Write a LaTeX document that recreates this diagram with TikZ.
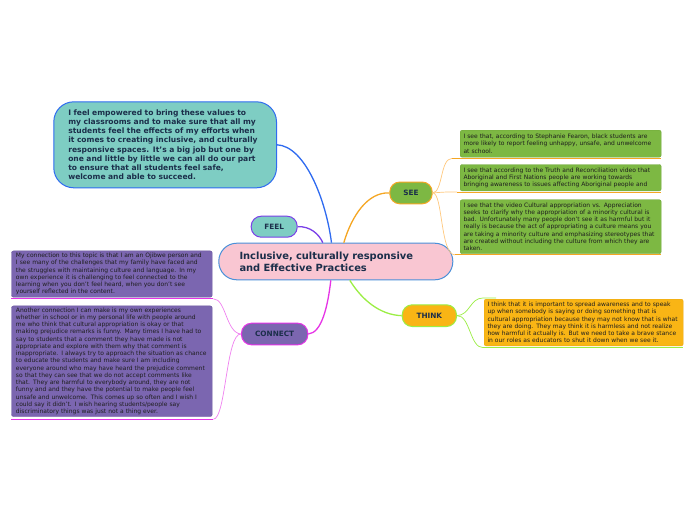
\documentclass[tikz,border=0pt]{standalone}
\usepackage{fontspec}
\setmainfont{DejaVu Sans}
\usetikzlibrary{calc}
\definecolor{pinkc}{HTML}{F9C6D2}
\definecolor{centerb}{HTML}{4A90D9}
\definecolor{tealc}{HTML}{7ECDC3}
\definecolor{blueb}{HTML}{2F6BF0}
\definecolor{purpb}{HTML}{7A3FE8}
\definecolor{greenc}{HTML}{7DB843}
\definecolor{greend}{HTML}{6FA83A}
\definecolor{orangeb}{HTML}{F5A623}
\definecolor{orangel}{HTML}{FFC87C}
\definecolor{yellowc}{HTML}{F9B515}
\definecolor{yellowd}{HTML}{E9A810}
\definecolor{limeb}{HTML}{9BEE44}
\definecolor{purplec}{HTML}{7B66B0}
\definecolor{purpled}{HTML}{6C58A0}
\definecolor{magb}{HTML}{E633E6}
\definecolor{magl}{HTML}{F080F0}
\definecolor{darkt}{HTML}{1B2E4A}
\definecolor{bodyt}{HTML}{1E1E1E}
\tikzset{
  topic/.style={anchor=north west, rounded corners=10pt, line width=1pt, inner sep=0pt,
    font=\fontsize{7.3}{8}\selectfont\bfseries, text=darkt},
  note/.style={anchor=north west, rounded corners=2pt, inner xsep=3.3pt, inner ysep=0pt,
    align=left, font=\fontsize{6.0}{7.25}\selectfont, text=bodyt, line width=0.4pt},
  conn/.style={line width=1.3pt},
  sub/.style={line width=0.7pt},
  under/.style={line width=1.1pt}
}
\begin{document}
\begin{tikzpicture}[x=1pt,y=-1pt]
\useasboundingbox[fill=white] (0,0) rectangle (696,520);

% central topic
\node[anchor=north west, draw=centerb, fill=pinkc, line width=1pt, rounded corners=18pt,
  minimum width=234pt, minimum height=36.6pt, text width=192.6pt, align=left,
  inner xsep=20.7pt, inner ysep=0pt, font=\fontsize{9.9}{12.3}\selectfont\bfseries, text=darkt]
  (c) at (218.3,242.7) {Inclusive, culturally responsive\\and Effective Practices};

% top-left floating statement
\node[anchor=north west, draw=blueb, fill=tealc, line width=1pt, rounded corners=20pt,
  minimum width=222.7pt, minimum height=86pt, text width=193.7pt, align=left,
  inner xsep=14.5pt, inner ysep=0pt, font=\fontsize{7.55}{9.24}\selectfont\bfseries, text=darkt]
  (tl) at (53.3,101.3) {I feel empowered to bring these values to\\
my classrooms and to make sure that all my\\
students feel the effects of my efforts when\\
it comes to creating inclusive, and culturally\\
responsive spaces. It's a big job but one by\\
one and little by little we can all do our part\\
to ensure that all students feel safe,\\
welcome and able to succeed.};

% main topics
\node[topic, draw=purpb, fill=tealc, minimum width=46pt, minimum height=21pt] (feel) at (250.7,215.7) {FEEL};
\node[topic, draw=orangeb, fill=greenc, minimum width=42.4pt, minimum height=21.8pt] (see) at (389.3,181.5) {SEE};
\node[topic, draw=limeb, fill=yellowc, minimum width=54.3pt, minimum height=21.7pt] (think) at (401.7,304.3) {THINK};
\node[topic, draw=magb, fill=purplec, minimum width=66.3pt, minimum height=21.6pt] (con) at (241,322.7) {CONNECT};

% SEE notes
\node[note, draw=greend, fill=greenc, minimum width=201pt, minimum height=27pt, text width=194.4pt] (s1) at (460,130)
{I see that, according to Stephanie Fearon, black students are\\
more likely to report feeling unhappy, unsafe, and unwelcome\\
at school.};
\node[note, draw=greend, fill=greenc, minimum width=201pt, minimum height=26.4pt, text width=194.4pt] (s2) at (460,164.3)
{I see that according to the Truth and Reconciliation video that\\
Aboriginal and First Nations people are working towards\\
bringing awareness to issues affecting Aboriginal people and};
\node[note, draw=greend, fill=greenc, minimum width=201pt, minimum height=54pt, text width=194.4pt] (s3) at (460,199.5)
{I see that the video Cultural appropriation vs. Appreciation\\
seeks to clarify why the appropriation of a minority cultural is\\
bad. Unfortunately many people don't see it as harmful but it\\
really is because the act of appropriating a culture means you\\
are taking a minority culture and emphasizing stereotypes that\\
are created without including the culture from which they are\\
taken.};

% THINK note
\node[note, draw=yellowd, fill=yellowc, minimum width=199pt, minimum height=46.7pt, text width=192.4pt] (t1) at (484,299)
{I think that it is important to spread awareness and to speak\\
up when somebody is saying or doing something that is\\
cultural appropriation because they may not know that is what\\
they are doing. They may think it is harmless and not realize\\
how harmful it actually is. But we need to take a brave stance\\
in our roles as educators to shut it down when we see it.};

% CONNECT notes
\node[note, draw=purpled, fill=purplec, inner xsep=4.5pt, minimum width=200.7pt, minimum height=46.3pt, text width=191.7pt] (c1) at (11.3,250.7)
{My connection to this topic is that I am an Ojibwe person and\\
I see many of the challenges that my family have faced and\\
the struggles with maintaining culture and language. In my\\
own experience it is challenging to feel connected to the\\
learning when you don't feel heard, when you don't see\\
yourself reflected in the content.};
\node[note, draw=purpled, fill=purplec, inner xsep=4.5pt, minimum width=200.7pt, minimum height=110.6pt, text width=191.7pt] (c2) at (11.3,305.7)
{Another connection I can make is my own experiences\\
whether in school or in my personal life with people around\\
me who think that cultural appropriation is okay or that\\
making prejudice remarks is funny. Many times I have had to\\
say to students that a comment they have made is not\\
appropriate and explore with them why that comment is\\
inappropriate. I always try to approach the situation as chance\\
to educate the students and make sure I am including\\
everyone around who may have heard the prejudice comment\\
so that they can see that we do not accept comments like\\
that. They are harmful to everybody around, they are not\\
funny and and they have the potential to make people feel\\
unsafe and unwelcome. This comes up so often and I wish I\\
could say it didn't. I wish hearing students/people say\\
discriminatory things was just not a thing ever.};

% main connectors
\draw[conn, blueb] (tl.east) .. controls (305,146) and (326,200) .. ([xshift=-4.3pt]c.north);
\draw[conn, purpb] (feel.east) .. controls (310,226) and (319,234) .. ([xshift=-13pt]c.north);
\draw[conn, orangeb] ([xshift=8pt]c.north) .. controls (352,215) and (368,192) .. (see.west);
\draw[conn, magb] ([xshift=-5pt]c.south) .. controls (328,305) and (322,333) .. (con.east);
\draw[conn, limeb] ([xshift=14pt]c.south) .. controls (362,300) and (380,315) .. (think.west);

% SEE sub-connectors
\draw[sub, orangel] (see.east) .. controls (443,192) and (440,158.5) .. ([xshift=-8pt,yshift=-1pt]s1.south west);
\draw[under, orangeb] ([xshift=-8pt,yshift=-1pt]s1.south west) -- ([yshift=-1pt]s1.south east);
\draw[sub, orangel] (see.east) .. controls (445,192) and (450,191.7) .. ([xshift=-3pt,yshift=-1pt]s2.south west);
\draw[under, orangeb] ([xshift=-3pt,yshift=-1pt]s2.south west) -- ([yshift=-1pt]s2.south east);
\draw[sub, orangel] (see.east) .. controls (443,193) and (440,254.5) .. ([xshift=-5pt,yshift=-1pt]s3.south west);
\draw[under, orangeb] ([xshift=-5pt,yshift=-1pt]s3.south west) -- ([yshift=-1pt]s3.south east);

% THINK sub-connectors
\draw[sub, limeb] (think.east) .. controls (470,315) and (470,298) .. ([xshift=-1pt,yshift=1pt]t1.north west) -- ([xshift=12pt,yshift=1pt]t1.north west);
\draw[sub, limeb] (think.east) .. controls (470,315) and (470,348) .. ([xshift=-1pt,yshift=-1.5pt]t1.south west);
\draw[under, limeb] ([xshift=-1pt,yshift=-1.5pt]t1.south west) -- ([yshift=-1.5pt]t1.south east);

% CONNECT sub-connectors
\draw[sub, magl] (con.west) .. controls (226,333) and (226,298.7) .. ([xshift=1pt,yshift=-1.5pt]c1.south east);
\draw[under, magb] ([xshift=1pt,yshift=-1.5pt]c1.south east) -- ([yshift=-1.5pt]c1.south west);
\draw[sub, magl] (con.west) .. controls (226,333) and (226,419) .. ([xshift=1pt,yshift=-2.5pt]c2.south east);
\draw[under, magb] ([xshift=1pt,yshift=-2.5pt]c2.south east) -- ([yshift=-2.5pt]c2.south west);
\end{tikzpicture}
\end{document}
